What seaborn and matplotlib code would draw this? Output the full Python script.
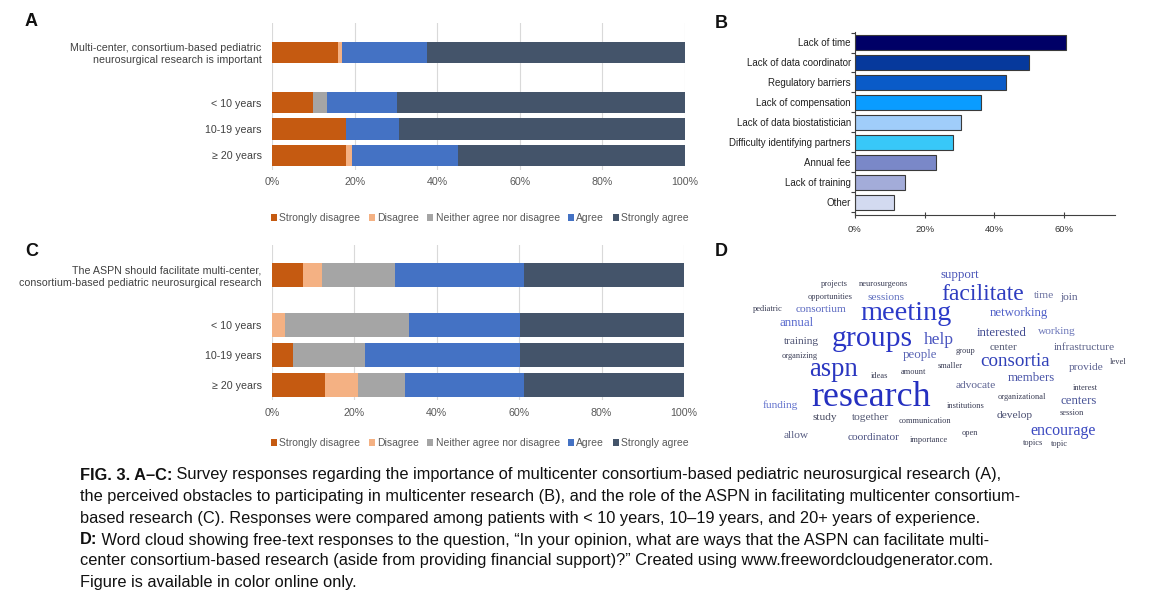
import numpy as np
import pandas as pd
import matplotlib
matplotlib.use('Agg')
import matplotlib.pyplot as plt
from matplotlib.patches import Patch
import seaborn as sns

# ─── Canvas ──────────────────────────────────────────────────────────────────
W, H = 1170, 605
DPI = 100

# ─── Data: panels A and C (stacked Likert bars, % of respondents) ───────────
responses   = ['Strongly disagree', 'Disagree', 'Neither agree nor disagree', 'Agree', 'Strongly agree']
resp_colors = ['#c55a11', '#f4b183', '#a5a5a5', '#4472c4', '#44546a']

a_rows = ['Multi-center, consortium-based pediatric\nneurosurgical research is important',
          '< 10 years', '10-19 years', '≥ 20 years']
a_values = [
    [16.0, 1.0, 0.0, 20.5, 62.5],
    [10.0, 0.0, 3.2, 17.0, 69.8],
    [18.0, 0.0, 0.0, 12.7, 69.3],
    [17.8, 1.5, 0.0, 25.7, 55.0],
]

c_rows = ['The ASPN should facilitate multi-center,\nconsortium-based pediatric neurosurgical research',
          '< 10 years', '10-19 years', '≥ 20 years']
c_values = [
    [7.5, 4.7, 17.7, 31.3, 38.8],
    [0.0, 3.1, 30.2, 26.8, 39.9],
    [5.0, 0.0, 17.5, 37.6, 39.9],
    [12.9, 8.0, 11.3, 29.0, 38.8],
]

# ─── Data: panel B (obstacles) ───────────────────────────────────────────────
b_labels = ['Lack of time', 'Lack of data coordinator', 'Regulatory barriers',
            'Lack of compensation', 'Lack of data biostatistician',
            'Difficulty identifying partners', 'Annual fee', 'Lack of training', 'Other']
b_values = [60.4, 50.0, 43.3, 36.2, 30.4, 28.0, 23.3, 14.4, 11.1]
b_colors = ['#000066', '#06399c', '#0a5bc8', '#0a9cff', '#a0cdfa',
            '#38c8f8', '#7a88c8', '#a3acd9', '#d3daf0']

# ─── Data: panel D (word cloud, relative frequency) ─────────────────────────
cloud_words = ['research', 'groups', 'meeting', 'aspn', 'facilitate', 'consortia', 'help',
               'encourage', 'support', 'networking', 'interested', 'members', 'centers',
               'people', 'annual', 'funding', 'consortium', 'sessions', 'training', 'study',
               'together', 'allow', 'coordinator', 'time', 'join', 'working', 'center',
               'infrastructure', 'provide', 'advocate', 'develop', 'projects', 'neurosurgeons',
               'opportunities', 'pediatric', 'organizing', 'ideas', 'amount', 'communication',
               'importance', 'group', 'smaller', 'level', 'interest', 'organizational',
               'institutions', 'session', 'open', 'topics', 'topic']
cloud_counts = [20, 16, 15, 14, 12, 9, 8,
                7, 5, 5, 5, 5, 5,
                5, 5, 4, 4, 4, 4, 4,
                4, 4, 4, 4, 4, 4, 4,
                4, 4, 4, 4, 2, 2,
                2, 2, 2, 2, 2, 2,
                2, 2, 2, 2, 2, 2,
                2, 2, 2, 2, 2]

# ─── Word cloud layout (pixel centres) and colours ──────────────────────────
cloud_xy = [(871, 397), (872, 339), (906, 313), (834, 370), (983, 295), (1015, 361), (939, 340),
            (1063, 431), (960, 275), (1019, 313), (1002, 333), (1031, 378), (1079, 401),
            (920, 355), (797, 323), (780, 405), (821, 309), (886, 298), (802, 342), (825, 418),
            (871, 418), (796, 436), (874, 438), (1044, 295), (1069, 297), (1057, 331), (1003, 347),
            (1084, 347), (1086, 367), (976, 386), (1015, 416), (834, 284), (883, 284),
            (830, 297), (768, 309), (800, 356), (879, 376), (913, 372), (925, 421),
            (929, 440), (965, 351), (950, 366), (1118, 362), (1085, 388), (1022, 397),
            (966, 406), (1072, 413), (970, 433), (1033, 443), (1059, 444)]
cloud_colors = ['#2530c0', '#2a35c5', '#2c3ac8', '#2a36c0', '#2e3cc0', '#3040b8', '#4a55c0',
                '#3a48c0', '#4a55b8', '#5060c8', '#404a90', '#4a55a8', '#4a5598',
                '#5a65b5', '#5566cc', '#6070cc', '#5a68c0', '#6070c0', '#4a4f70', '#45485f',
                '#505570', '#555a80', '#4a5080', '#6a70a0', '#555a88', '#6a75b8', '#505570',
                '#5a6088', '#5a6090', '#5a6090', '#484d70', '#3a3d55', '#3a3d55',
                '#3a3d55', '#3a3d55', '#3a3d55', '#3a3d55', '#3a3d55', '#3a3d55',
                '#3a3d55', '#3a3d55', '#3a3d55', '#3a3d55', '#3a3d55', '#3a3d55',
                '#3a3d55', '#3a3d55', '#3a3d55', '#3a3d55', '#3a3d55']

# ─── Caption ─────────────────────────────────────────────────────────────────
caption_lines = [
    ('FIG. 3. A–C:', ' Survey responses regarding the importance of multicenter consortium-based pediatric neurosurgical research (A),'),
    ('', 'the perceived obstacles to participating in multicenter research (B), and the role of the ASPN in facilitating multicenter consortium-'),
    ('', 'based research (C). Responses were compared among patients with < 10 years, 10–19 years, and 20+ years of experience.'),
    ('D:', ' Word cloud showing free-text responses to the question, “In your opinion, what are ways that the ASPN can facilitate multi-'),
    ('', 'center consortium-based research (aside from providing financial support)?” Created using www.freewordcloudgenerator.com.'),
    ('', 'Figure is available in color online only.'),
]

plt.rcParams['font.family'] = ['Liberation Sans', 'DejaVu Sans']

fig = plt.figure(figsize=(W / DPI, H / DPI), dpi=DPI)


def px_axes(x0, y0, x1, y1):
    return fig.add_axes([x0 / W, 1 - y1 / H, (x1 - x0) / W, (y1 - y0) / H])


def stacked_panel(ax, rows, values, pos, ylim, legend_y):
    df = pd.DataFrame(values, columns=responses)
    cum = df.cumsum(axis=1)
    # draw from the last category backwards so each bar covers the next
    for resp, col in reversed(list(zip(responses, resp_colors))):
        sub = pd.DataFrame({'pos': pos, 'end': cum[resp]})
        sns.barplot(data=sub, x='end', y='pos', orient='y', native_scale=True,
                    color=col, saturation=1, width=0.82, errorbar=None,
                    linewidth=0, ax=ax)
    ax.set_xlim(0, 100)
    ax.set_ylim(*ylim)
    ax.set_xticks(range(0, 101, 20))
    ax.set_xticklabels([f'{v}%' for v in range(0, 101, 20)])
    ax.set_yticks(pos)
    ax.set_yticklabels(rows)
    ax.tick_params(axis='x', length=0, pad=5.4, labelsize=7.7, labelcolor='#595959')
    ax.tick_params(axis='y', length=0, pad=7.5, labelsize=7.7, labelcolor='#404040')
    ax.grid(axis='x', color='#d9d9d9', linewidth=0.8)
    ax.set_axisbelow(True)
    for s in ax.spines.values():
        s.set_visible(False)
    ax.set_xlabel('')
    ax.set_ylabel('')
    handles = [Patch(facecolor=c, edgecolor='none') for c in resp_colors]
    fig.legend(handles, responses, loc='center left', ncol=5,
               bbox_to_anchor=(271 / W, 1 - legend_y / H), bbox_transform=fig.transFigure,
               frameon=False, fontsize=7.5, labelcolor='#595959',
               handlelength=0.6, handleheight=0.6, handletextpad=0.2,
               columnspacing=0.8, borderpad=0, borderaxespad=0)


# ─── Panel A ─────────────────────────────────────────────────────────────────
ax_a = px_axes(272, 23, 685, 170)
stacked_panel(ax_a, a_rows, a_values, [0, 1.9, 2.9, 3.9], (4.45, -1.11), 218)

# ─── Panel C ─────────────────────────────────────────────────────────────────
ax_c = px_axes(272, 245, 684, 400)
stacked_panel(ax_c, c_rows, c_values, [0, 1.67, 2.67, 3.67], (4.17, -1.0), 443)

# ─── Panel B ─────────────────────────────────────────────────────────────────
ax_b = px_axes(855, 32, 1115, 215)
dfb = pd.DataFrame({'obstacle': b_labels, 'pct': b_values})
sns.barplot(data=dfb, x='pct', y='obstacle', hue='obstacle', palette=b_colors,
            legend=False, saturation=1, width=0.75, edgecolor='#3a3a3a',
            linewidth=0.8, ax=ax_b)
ax_b.set_xlim(0, 74.6)
ax_b.set_ylim(8.625, -0.525)
ax_b.set_xticks([0, 20, 40, 60])
ax_b.set_xticklabels(['0%', '20%', '40%', '60%'])
ax_b.set_yticks(np.arange(-0.5, 9, 1), minor=True)
ax_b.tick_params(axis='x', direction='inout', length=5, width=0.8, color='#404040',
                 pad=5, labelsize=6.8, labelcolor='#333333')
ax_b.tick_params(axis='y', which='major', length=0, pad=3, labelsize=7, labelcolor='#222222')
ax_b.tick_params(axis='y', which='minor', length=3, width=0.8, color='#404040')
for side in ['top', 'right']:
    ax_b.spines[side].set_visible(False)
for side in ['left', 'bottom']:
    ax_b.spines[side].set_color('#404040')
    ax_b.spines[side].set_linewidth(0.8)
ax_b.set_xlabel('')
ax_b.set_ylabel('')

# ─── Panel D: word cloud ─────────────────────────────────────────────────────
ax_d = px_axes(740, 260, 1140, 460)
ax_d.set_xlim(740, 1140)
ax_d.set_ylim(460, 260)
ax_d.axis('off')
for word, cnt, (x, y), col in zip(cloud_words, cloud_counts, cloud_xy, cloud_colors):
    ax_d.text(x, y, word, fontsize=3.8 + 1.1 * cnt, color=col, family='Liberation Serif',
              ha='center', va='center')

# ─── Panel letters and caption ───────────────────────────────────────────────
cap = fig.add_axes([0, 0, 1, 1])
cap.set_xlim(0, W)
cap.set_ylim(H, 0)
cap.axis('off')
cap.patch.set_alpha(0)
for letter, (x, y) in zip('ABCD', [(25, 22), (715, 24), (25, 252), (715, 252)]):
    cap.text(x, y, letter, fontsize=13, fontweight='bold', ha='left', va='center', color='#111111')

CAP_SIZE = 11.8
line_y = [475, 497, 518, 540, 561, 582]
for (bold, rest), y in zip(caption_lines, line_y):
    if bold:
        tb = cap.text(80, y, bold, fontsize=CAP_SIZE, fontweight='bold', ha='left', va='center', color='#111111')
        cap.annotate(rest, xy=(1, 0), xycoords=tb, ha='left', va='bottom', fontsize=CAP_SIZE, color='#111111')
    else:
        cap.text(80, y, rest, fontsize=CAP_SIZE, ha='left', va='center', color='#111111')

fig.savefig('out.png', dpi=DPI)
